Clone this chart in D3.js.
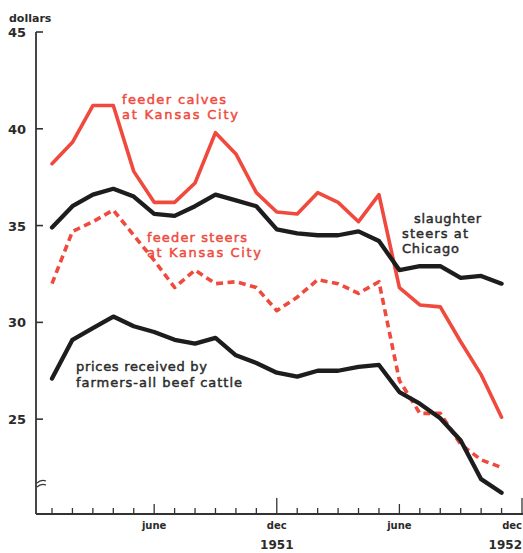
<!DOCTYPE html>
<html>
<head>
<meta charset="utf-8">
<script src="https://cdn.jsdelivr.net/npm/d3@7/dist/d3.min.js"></script>
<style>
  html, body { margin: 0; padding: 0; background: #ffffff; }
  svg { display: block; }
  text { font-family: "DejaVu Sans", "Liberation Sans", sans-serif; }
</style>
</head>
<body>
<div id="chart"></div>
<script>
// Months Jan 1951 .. Nov 1952 (index 0..22)
const months = ["jan","feb","mar","apr","may","june","july","aug","sep","oct","nov","dec",
                "jan","feb","mar","apr","may","june","july","aug","sep","oct","nov"];
const feederCalves = [38.2, 39.3, 41.2, 41.2, 37.8, 36.2, 36.2, 37.2, 39.8, 38.7, 36.7, 35.7,
                      35.6, 36.7, 36.2, 35.2, 36.6, 31.8, 30.9, 30.8, 29.0, 27.3, 25.1];
const slaughterSteers = [34.9, 36.0, 36.6, 36.9, 36.5, 35.6, 35.5, 36.0, 36.6, 36.3, 36.0, 34.8,
                         34.6, 34.5, 34.5, 34.7, 34.2, 32.7, 32.9, 32.9, 32.3, 32.4, 32.0];
const feederSteers = [32.0, 34.7, 35.2, 35.8, 34.5, 33.2, 31.8, 32.7, 32.0, 32.1, 31.8, 30.6,
                      31.3, 32.2, 32.0, 31.5, 32.1, 27.0, 25.3, 25.3, 23.7, 22.9, 22.5];
const pricesReceived = [27.1, 29.1, 29.7, 30.3, 29.8, 29.5, 29.1, 28.9, 29.2, 28.3, 27.9, 27.4,
                        27.2, 27.5, 27.5, 27.7, 27.8, 26.4, 25.8, 25.05, 23.9, 21.9, 21.2];
const yTicks = [25, 30, 35, 40, 45];
const xTickIdx = d3.range(0, 24);
const xLabels = [{i: 5, t: "june"}, {i: 11, t: "dec"}, {i: 17, t: "june"}, {i: 23, t: "dec"}];
const yearLabels = [{i: 11, t: "1951"}, {i: 23, t: "1952"}];

const W = 523, H = 553;
const RED = "#ef4a3d", INK = "#1d1d1d", TXT = "#2b2b2b";

const svg = d3.select("#chart").append("svg").attr("width", W).attr("height", H);

const x = d3.scaleLinear().domain([0, 23]).range([52, 522]);
const y = d3.scaleLinear().domain([20.1, 45]).range([514, 32]);
const axisX = 36;

// y axis line
svg.append("line").attr("x1", axisX).attr("x2", axisX).attr("y1", y(45)).attr("y2", 514)
  .attr("stroke", "#333").attr("stroke-width", 1.8);
svg.selectAll(".yt").data(yTicks).enter().append("line")
  .attr("x1", axisX).attr("x2", axisX + 7).attr("y1", d => y(d)).attr("y2", d => y(d))
  .attr("stroke", "#333").attr("stroke-width", 1.6);
svg.selectAll(".yl").data(yTicks).enter().append("text")
  .attr("x", 26).attr("y", d => y(d) + 5).attr("text-anchor", "end")
  .attr("font-size", 13).attr("font-weight", "bold").attr("fill", TXT).text(d => d);
svg.append("text").attr("x", 9).attr("y", 22).attr("font-size", 11).attr("font-weight", "bold")
  .attr("fill", TXT).text("dollars");
// axis break
svg.append("path").attr("d", "M37,483 q4,-4 9,-2 M37,487 q4,-4 9,-2")
  .attr("fill", "none").attr("stroke", "#333").attr("stroke-width", 1.1);

// x axis
svg.append("line").attr("x1", axisX).attr("x2", W).attr("y1", 514).attr("y2", 514)
  .attr("stroke", "#333").attr("stroke-width", 1.8);
svg.selectAll(".xt").data(xTickIdx).enter().append("line")
  .attr("x1", d => x(d)).attr("x2", d => x(d)).attr("y1", 514)
  .attr("y2", d => 514 - (d % 12 === 11 ? 16 : (d % 12 === 5 ? 10 : 6)))
  .attr("stroke", "#333").attr("stroke-width", 1.3);
svg.selectAll(".xl").data(xLabels).enter().append("text")
  .attr("x", d => d.i === 23 ? W - 1 : x(d.i)).attr("y", 529)
  .attr("text-anchor", d => d.i === 23 ? "end" : "middle")
  .attr("font-size", 10).attr("font-weight", "bold").attr("fill", TXT).text(d => d.t);
svg.selectAll(".yr").data(yearLabels).enter().append("text")
  .attr("x", d => d.i === 23 ? W - 1 : x(d.i)).attr("y", 549)
  .attr("text-anchor", d => d.i === 23 ? "end" : "middle")
  .attr("font-size", 12).attr("font-weight", "bold").attr("fill", TXT).text(d => d.t);

const line = d3.line().x((d, i) => x(i)).y(d => y(d)).curve(d3.curveLinear);

function drawSeries(data, color, width, dash) {
  const p = svg.append("path").datum(data).attr("d", line)
    .attr("fill", "none").attr("stroke", color).attr("stroke-width", width)
    .attr("stroke-linejoin", "round").attr("stroke-linecap", dash ? "butt" : "round");
  if (dash) p.attr("stroke-dasharray", dash);
}
drawSeries(feederCalves, RED, 3.6);
drawSeries(feederSteers, RED, 3.6, "7,4.5");
drawSeries(slaughterSteers, INK, 4.3);
drawSeries(pricesReceived, INK, 4.3);

// annotations
function label(lines, color) {
  lines.forEach(l => {
    svg.append("text").attr("x", l.x).attr("y", l.y).attr("fill", color)
      .attr("stroke", color).attr("stroke-width", 0.45)
      .attr("font-size", 13).attr("textLength", l.w).attr("lengthAdjust", "spacing")
      .text(l.t);
  });
}
label([{t: "feeder calves", x: 122, y: 104, w: 104},
       {t: "at Kansas City", x: 122, y: 119, w: 116}], RED);
label([{t: "feeder steers", x: 147, y: 242, w: 100},
       {t: "at Kansas City", x: 147, y: 257, w: 114}], RED);
label([{t: "slaughter", x: 414, y: 223, w: 67},
       {t: "steers at", x: 402, y: 238, w: 66},
       {t: "Chicago", x: 402, y: 253, w: 57}], TXT);
label([{t: "prices received by", x: 76, y: 371, w: 131},
       {t: "farmers-all beef cattle", x: 76, y: 387, w: 166}], TXT);
</script>
</body>
</html>
